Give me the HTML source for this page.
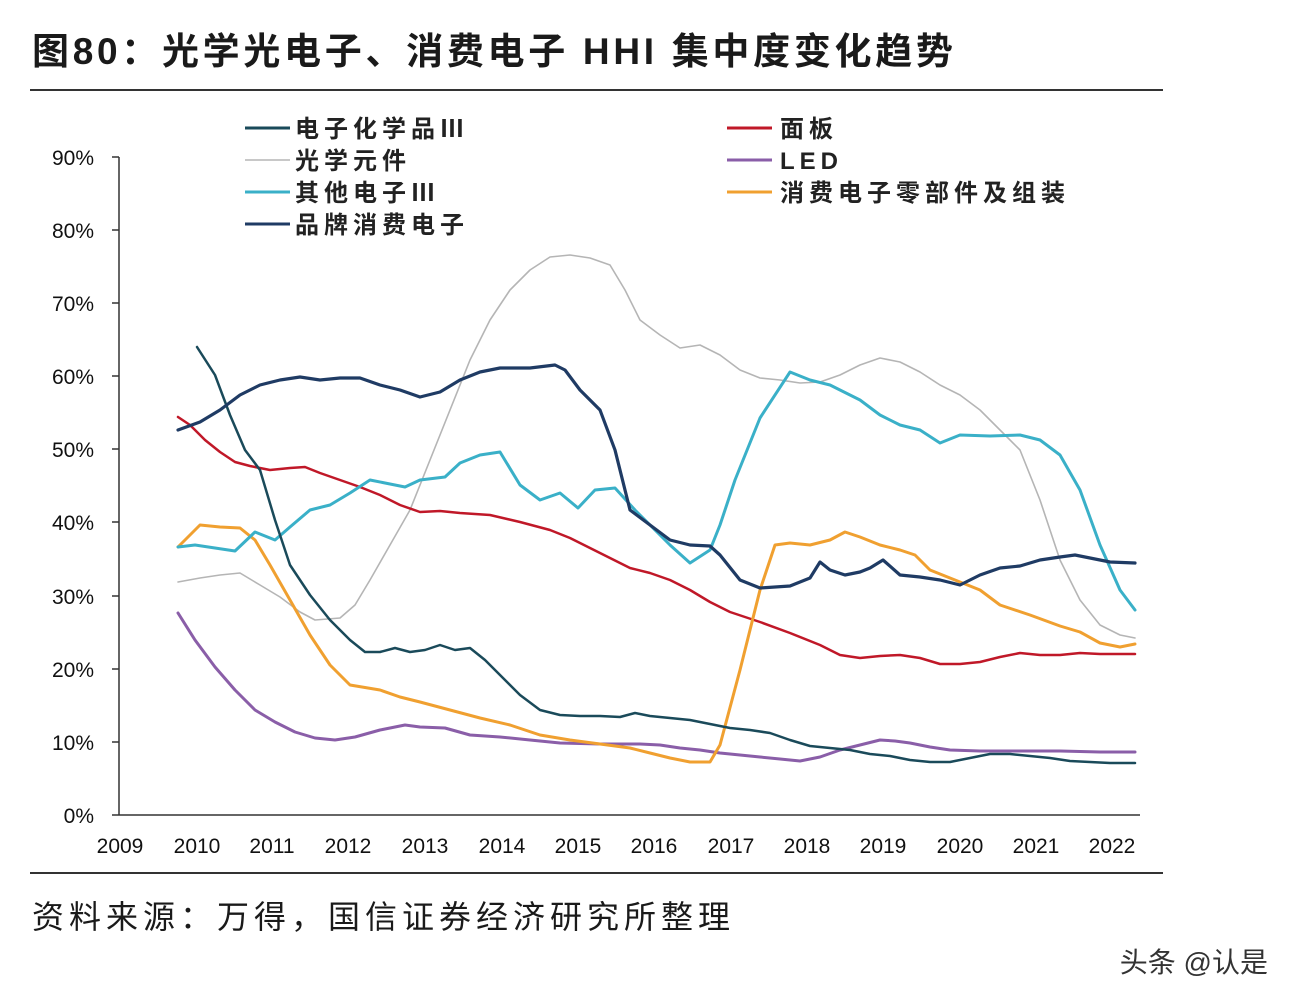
<!DOCTYPE html>
<html><head><meta charset="utf-8"><style>
html,body{margin:0;padding:0;background:#fff;}
body{width:1298px;height:1006px;overflow:hidden;position:relative;font-family:"Liberation Sans","Noto Sans CJK SC",sans-serif;}
</style></head><body>
<svg width="1298" height="1006" viewBox="0 0 1298 1006" xmlns="http://www.w3.org/2000/svg" style="position:absolute;left:0;top:0">
<text x="32" y="64" font-size="37" font-weight="bold" letter-spacing="3.7" fill="#1a1a1a" font-family="Liberation Sans, Noto Sans CJK SC, sans-serif">图80：光学光电子、消费电子 HHI 集中度变化趋势</text>
<line x1="30" y1="90" x2="1163" y2="90" stroke="#333" stroke-width="2"/>
<line x1="30" y1="873" x2="1163" y2="873" stroke="#333" stroke-width="2"/>
<text x="32" y="928" font-size="32" letter-spacing="5" fill="#1a1a1a" font-family="Liberation Sans, Noto Sans CJK SC, sans-serif">资料来源：万得，国信证券经济研究所整理</text>
<text x="1268" y="972" font-size="28" fill="#333" text-anchor="end" font-family="Liberation Sans, Noto Sans CJK SC, sans-serif">头条 @认是</text>
<line x1="119" y1="157" x2="119" y2="815" stroke="#333" stroke-width="1.5"/>
<line x1="119" y1="815" x2="1140" y2="815" stroke="#333" stroke-width="1.5"/>
<g font-size="21" fill="#111" text-anchor="end" font-family="Liberation Sans, sans-serif">
<text x="94" y="823">0%</text><text x="94" y="750">10%</text><text x="94" y="677">20%</text><text x="94" y="604">30%</text><text x="94" y="530">40%</text><text x="94" y="457">50%</text><text x="94" y="384">60%</text><text x="94" y="311">70%</text><text x="94" y="238">80%</text><text x="94" y="165">90%</text>
</g>
<g stroke="#333" stroke-width="1.5">
<line x1="112" y1="815" x2="119" y2="815"/><line x1="112" y1="742" x2="119" y2="742"/><line x1="112" y1="669" x2="119" y2="669"/><line x1="112" y1="596" x2="119" y2="596"/><line x1="112" y1="522" x2="119" y2="522"/><line x1="112" y1="449" x2="119" y2="449"/><line x1="112" y1="376" x2="119" y2="376"/><line x1="112" y1="303" x2="119" y2="303"/><line x1="112" y1="230" x2="119" y2="230"/><line x1="112" y1="157" x2="119" y2="157"/>
</g>
<g font-size="21" fill="#111" text-anchor="middle" font-family="Liberation Sans, sans-serif">
<text x="120" y="853">2009</text><text x="197" y="853">2010</text><text x="272" y="853">2011</text><text x="348" y="853">2012</text><text x="425" y="853">2013</text><text x="502" y="853">2014</text><text x="578" y="853">2015</text><text x="654" y="853">2016</text><text x="731" y="853">2017</text><text x="807" y="853">2018</text><text x="883" y="853">2019</text><text x="960" y="853">2020</text><text x="1036" y="853">2021</text><text x="1112" y="853">2022</text>
</g>
<g fill="none" stroke-linejoin="round" stroke-linecap="round">
<polyline stroke="#b5b5b5" stroke-width="1.6" points="178,582 200,578 220,575 240,573 260,585 280,597 300,612 315,620 340,618 355,605 370,580 390,545 410,510 430,460 450,410 470,360 490,320 510,290 530,270 550,257 570,255 590,258 610,265 625,290 640,320 660,335 680,348 700,345 720,355 740,370 760,378 780,380 800,383 820,382 840,375 860,365 880,358 900,362 920,372 940,385 960,395 980,410 1000,430 1020,450 1040,500 1060,560 1080,600 1100,625 1120,635 1135,638"/>
<polyline stroke="#c01828" stroke-width="2.5" points="178,417 190,425 205,440 220,452 235,462 250,466 270,470 290,468 305,467 320,473 340,480 360,487 380,495 400,505 420,512 440,511 460,513 490,515 520,522 550,530 570,538 590,548 610,558 630,568 650,573 670,580 690,590 710,602 730,612 760,622 790,633 820,645 840,655 860,658 880,656 900,655 920,658 940,664 960,664 980,662 1000,657 1020,653 1040,655 1060,655 1080,653 1100,654 1135,654"/>
<polyline stroke="#8a5ea8" stroke-width="3" points="178,613 195,640 215,667 235,690 255,710 275,722 295,732 315,738 335,740 355,737 380,730 405,725 420,727 445,728 470,735 500,737 530,740 560,743 600,744 640,744 660,745 680,748 700,750 720,753 740,755 760,757 780,759 800,761 820,757 840,750 860,745 880,740 895,741 910,743 930,747 950,750 980,751 1020,751 1060,751 1100,752 1135,752"/>
<polyline stroke="#f0a030" stroke-width="3" points="178,547 200,525 220,527 240,528 255,540 270,565 290,600 310,635 330,665 350,685 380,690 400,697 420,702 450,710 480,718 510,725 540,735 570,740 600,744 630,748 650,753 670,758 690,762 710,762 720,745 740,670 760,590 775,545 790,543 810,545 830,540 845,532 860,537 880,545 900,550 915,555 930,570 960,582 980,590 1000,605 1030,615 1060,626 1080,632 1100,643 1120,647 1135,644"/>
<polyline stroke="#3ab0c8" stroke-width="3" points="178,547 195,545 215,548 235,551 255,532 275,540 290,527 310,510 330,505 350,493 370,480 390,484 405,487 420,480 445,477 460,463 480,455 500,452 520,485 540,500 560,493 578,508 595,490 615,488 635,510 650,525 670,545 690,563 710,550 720,525 735,480 760,418 790,372 810,380 830,385 860,400 880,415 900,425 920,430 940,443 960,435 990,436 1020,435 1040,440 1060,455 1080,490 1100,545 1120,590 1135,610"/>
<polyline stroke="#1a4a5a" stroke-width="2.5" points="197,347 215,375 230,415 245,450 260,470 275,520 290,565 310,595 330,620 350,640 365,652 380,652 395,648 410,652 425,650 440,645 455,650 470,648 485,660 500,675 520,695 540,710 560,715 580,716 600,716 620,717 635,713 650,716 670,718 690,720 710,724 730,728 750,730 770,733 790,740 810,746 830,748 850,750 870,754 890,756 910,760 930,762 950,762 970,758 990,754 1010,754 1030,756 1050,758 1070,761 1090,762 1110,763 1135,763"/>
<polyline stroke="#1f3b64" stroke-width="3.2" points="178,430 200,422 220,410 240,395 260,385 280,380 300,377 320,380 340,378 360,378 380,385 400,390 420,397 440,392 460,380 480,372 500,368 530,368 555,365 565,370 580,390 600,410 615,450 630,510 650,525 670,540 690,545 710,546 720,555 740,580 760,588 790,586 810,578 820,562 830,570 845,575 860,572 870,568 883,560 900,575 920,577 940,580 960,585 980,575 1000,568 1020,566 1040,560 1060,557 1075,555 1090,558 1110,562 1135,563"/>
</g>
<g stroke-width="3">
<line x1="245" y1="128" x2="290" y2="128" stroke="#1a4a5a"/>
<line x1="245" y1="160" x2="290" y2="160" stroke="#b5b5b5" stroke-width="1.6"/>
<line x1="245" y1="192" x2="290" y2="192" stroke="#3ab0c8"/>
<line x1="245" y1="224" x2="290" y2="224" stroke="#1f3b64"/>
<line x1="727" y1="128" x2="772" y2="128" stroke="#c01828"/>
<line x1="727" y1="160" x2="772" y2="160" stroke="#8a5ea8"/>
<line x1="727" y1="192" x2="772" y2="192" stroke="#f0a030"/>
</g>
<g font-size="24" font-weight="bold" letter-spacing="5" fill="#222" font-family="Liberation Sans, Noto Sans CJK SC, sans-serif">
<text x="295" y="137">电子化学品Ⅲ</text>
<text x="295" y="169">光学元件</text>
<text x="295" y="201">其他电子Ⅲ</text>
<text x="295" y="233">品牌消费电子</text>
<text x="780" y="137">面板</text>
<text x="780" y="169">LED</text>
<text x="780" y="201">消费电子零部件及组装</text>
</g>
</svg>
</body></html>
